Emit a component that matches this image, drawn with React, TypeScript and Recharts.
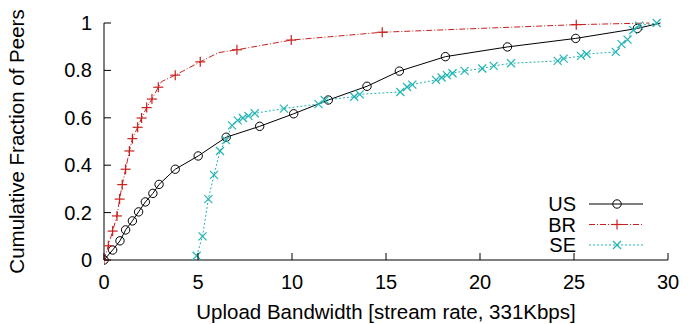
import { LineChart, Line, XAxis, YAxis } from 'recharts'

const usX = [0, 0.46, 0.85, 1.15, 1.51, 1.84, 2.2, 2.6, 2.93, 3.79, 5.01, 6.5, 8.28, 10.09, 11.93, 13.99, 15.71, 18.16, 21.46, 25.09, 28.37, 29.6]
const usY = [0, 0.042, 0.081, 0.127, 0.165, 0.203, 0.245, 0.281, 0.319, 0.383, 0.439, 0.518, 0.564, 0.617, 0.675, 0.733, 0.797, 0.858, 0.899, 0.935, 0.977, 1]

const brX = [0, 0.23, 0.46, 0.69, 0.83, 0.97, 1.15, 1.35, 1.51, 1.79, 2.0, 2.27, 2.55, 2.89, 3.07, 3.79, 5.12, 6.09, 7.07, 9.96, 14.8, 25.12, 29.0]
const brY = [0, 0.06, 0.122, 0.186, 0.257, 0.318, 0.383, 0.46, 0.512, 0.56, 0.599, 0.643, 0.679, 0.729, 0.753, 0.78, 0.836, 0.875, 0.887, 0.928, 0.961, 0.993, 1]

const seX = [4.93, 5.24, 5.55, 5.85, 6.17, 6.49, 6.81, 7.11, 7.39, 7.68, 8.02, 9.57, 11.41, 11.74, 13.31, 13.6, 15.76, 16.12, 16.4, 17.66, 17.96, 18.24, 18.54, 19.18, 20.12, 20.73, 21.65, 24.13, 24.45, 25.37, 25.67, 27.22, 27.53, 27.85, 28.15, 28.46, 29.4]
const seY = [0.018, 0.1, 0.257, 0.359, 0.46, 0.506, 0.568, 0.589, 0.599, 0.608, 0.619, 0.639, 0.658, 0.675, 0.689, 0.699, 0.709, 0.73, 0.74, 0.76, 0.77, 0.78, 0.788, 0.798, 0.808, 0.819, 0.83, 0.84, 0.85, 0.861, 0.869, 0.878, 0.911, 0.93, 0.97, 0.989, 1.0]

// points where the line bends but no marker is drawn
const usPlain = [21]
const brPlain = [14, 17, 22]

const xTicks = [0, 5, 10, 15, 20, 25, 30]
const yTicks = [0, 0.2, 0.4, 0.6, 0.8, 1]

const RED = '#c8201e'
const CYAN = '#22b4b4'
const FONT = '"Liberation Sans", Arial, sans-serif'

const toRows = (xs: number[], ys: number[]) => xs.map((x, i) => ({ x, y: ys[i] }))
const usData = toRows(usX, usY)
const brData = toRows(brX, brY)
const seData = toRows(seX, seY)

function circle(cx: number, cy: number, key?: any) {
  return <circle key={key} cx={cx} cy={cy} r={4.2} fill="none" stroke="#000" strokeWidth={1} />
}
function plus(cx: number, cy: number, key?: any) {
  return (
    <g key={key} stroke={RED} strokeWidth={1.2}>
      <line x1={cx - 5} y1={cy} x2={cx + 5} y2={cy} />
      <line x1={cx} y1={cy - 5} x2={cx} y2={cy + 5} />
    </g>
  )
}
function cross(cx: number, cy: number, key?: any) {
  return (
    <g key={key} stroke={CYAN} strokeWidth={1.2}>
      <line x1={cx - 4} y1={cy - 4} x2={cx + 4} y2={cy + 4} />
      <line x1={cx - 4} y1={cy + 4} x2={cx + 4} y2={cy - 4} />
    </g>
  )
}

const XTick = (p: any) => (
  <g>
    <line x1={p.x} y1={p.y} x2={p.x} y2={p.y - 7} stroke="#000" />
    <text x={p.x} y={p.y + 29} textAnchor="middle" fontSize={20} fontFamily={FONT} fill="#000">
      {p.payload.value}
    </text>
  </g>
)
const YTick = (p: any) => (
  <g>
    <line x1={p.x} y1={p.y} x2={p.x + 7} y2={p.y} stroke="#000" />
    <text x={p.x - 12} y={p.y + 7} textAnchor="end" fontSize={20} fontFamily={FONT} fill="#000">
      {p.payload.value}
    </text>
  </g>
)

const legendRows = [
  { name: 'US', color: '#000', dash: undefined, mark: circle },
  { name: 'BR', color: RED, dash: '6 2 1 2', mark: plus },
  { name: 'SE', color: CYAN, dash: '2 2', mark: cross },
]

const LegendBox = () => (
  <svg width={180} height={70} style={{ position: 'absolute', left: 480, top: 190 }}>
    {legendRows.map((r, i) => {
      const cy = 14 + i * 20.5
      return (
        <g key={r.name}>
          <text x={96} y={cy + 7} textAnchor="end" fontSize={20} fontFamily={FONT} fill="#000">
            {r.name}
          </text>
          <line x1={109} y1={cy} x2={163} y2={cy} stroke={r.color} strokeDasharray={r.dash} />
          {r.mark(137, cy)}
        </g>
      )
    })}
  </svg>
)

export default function App() {
  return (
    <div style={{ position: 'absolute', left: 0, top: 0, width: 694, height: 324, background: '#fff' }}>
      <LineChart width={694} height={324} margin={{ top: 23, right: 26, left: 0, bottom: 0 }}>
        <XAxis
          dataKey="x"
          type="number"
          domain={[0, 30]}
          ticks={xTicks}
          height={64}
          tickSize={0}
          tickMargin={0}
          tickLine={false}
          tick={XTick}
          axisLine={{ stroke: '#000' }}
          allowDataOverflow
          label={{ value: 'Upload Bandwidth [stream rate, 331Kbps]', position: 'insideBottom', offset: 5, fill: '#000', fontSize: 20.5, fontFamily: FONT }}
        />
        <XAxis xAxisId="top" orientation="top" type="number" domain={[0, 30]} height={0} tick={false} tickLine={false} axisLine={{ stroke: '#000' }} />
        <YAxis
          type="number"
          domain={[0, 1]}
          ticks={yTicks}
          width={104}
          tickSize={0}
          tickMargin={0}
          tickLine={false}
          tick={YTick}
          axisLine={{ stroke: '#808080', strokeWidth: 2 }}
          label={{ value: 'Cumulative Fraction of Peers', angle: -90, position: 'insideLeft', offset: 12, dx: 5, fill: '#000', fontSize: 20.5, fontFamily: FONT, style: { textAnchor: 'middle' } }}
        />
        <YAxis yAxisId="right" orientation="right" type="number" domain={[0, 1]} width={0} tick={false} tickLine={false} axisLine={{ stroke: '#000' }} />
        <Line
          data={usData}
          dataKey="y"
          type="linear"
          stroke="#000"
          strokeWidth={1}
          isAnimationActive={false}
          dot={(p: any) => (usPlain.includes(p.index) ? <g key={p.index} /> : circle(p.cx, p.cy, p.index))}
          activeDot={false}
        />
        <Line
          data={brData}
          dataKey="y"
          type="linear"
          stroke={RED}
          strokeWidth={1}
          strokeDasharray="6 2 1 2"
          isAnimationActive={false}
          dot={(p: any) => (brPlain.includes(p.index) ? <g key={p.index} /> : plus(p.cx, p.cy, p.index))}
          activeDot={false}
        />
        <Line
          data={seData}
          dataKey="y"
          type="linear"
          stroke={CYAN}
          strokeWidth={1}
          strokeDasharray="2 2"
          isAnimationActive={false}
          dot={(p: any) => cross(p.cx, p.cy, p.index)}
          activeDot={false}
        />
      </LineChart>
      <LegendBox />
    </div>
  )
}
